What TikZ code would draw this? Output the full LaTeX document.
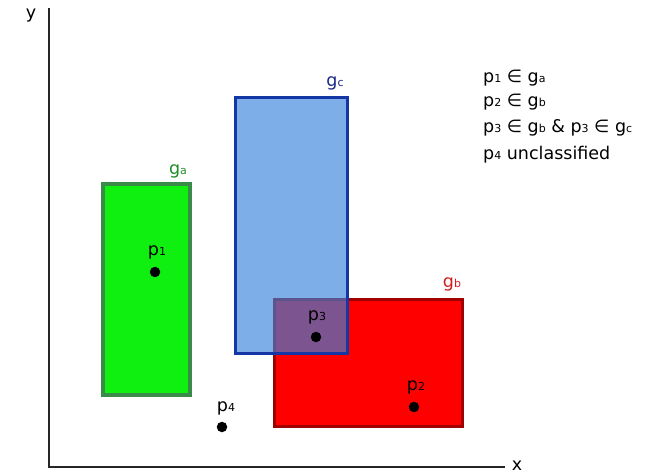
\documentclass[tikz,border=0pt]{standalone}
\usepackage{fontspec}
\setmainfont{DejaVu Sans}
\definecolor{gafill}{RGB}{16,240,16}
\definecolor{gadraw}{RGB}{58,138,74}
\definecolor{galab}{RGB}{30,140,40}
\definecolor{gbfill}{RGB}{255,0,0}
\definecolor{gbdraw}{RGB}{160,0,0}
\definecolor{gblab}{RGB}{210,30,30}
\definecolor{gcfill}{RGB}{55,130,220}
\definecolor{gcdraw}{RGB}{20,55,165}
\definecolor{gclab}{RGB}{25,40,140}
\newcommand\lo[1]{{\fontsize{11}{11}\selectfont #1}}
\begin{document}
\begin{tikzpicture}[x=1pt,y=-1pt,
  lab/.style={font=\fontsize{17.5}{17.5}\selectfont, inner sep=0pt},
  dotmark/.style={circle, fill=black, inner sep=0pt, minimum size=10.5pt},
  axis/.style={draw=black!85, line width=1.8pt}]
\useasboundingbox (0,0) rectangle (665,476);
% axes
\coordinate (o) at (49,467);
\coordinate (ytop) at (49,8);
\coordinate (xend) at (505,467);
\draw[axis] (ytop) -- (o) -- (xend);
\node[lab] (ylab) at (31,16) {y};
\node[lab] (xlab) at (517,466) {x};
% ga
\node[draw=gadraw, fill=gafill, line width=3.5pt, minimum width=87pt, minimum height=211pt, inner sep=0pt] (ga) at (146.5,289.5) {};
\node[lab, text=galab] (galabel) at (178,171) {g\lo{a}};
% gb
\node[draw=gbdraw, fill=gbfill, line width=3pt, minimum width=188pt, minimum height=126pt, inner sep=0pt] (gb) at (368,363) {};
\node[lab, text=gblab] (gblabel) at (452,284) {g\lo{b}};
% gc
\node[draw=gcdraw, fill=gcfill, fill opacity=0.65, line width=3pt, minimum width=112pt, minimum height=255pt, inner sep=0pt] (gc) at (291,225.5) {};
\node[lab, text=gclab] (gclabel) at (335,83) {g\lo{c}};
% points
\node[dotmark] (p1) at (155,272) {};
\node[lab] (p1l) at (157,252) {p\lo{1}};
\node[dotmark] (p2) at (414,407) {};
\node[lab] (p2l) at (416,387) {p\lo{2}};
\node[dotmark] (p3) at (316,337) {};
\node[lab] (p3l) at (317,317) {p\lo{3}};
\node[dotmark] (p4) at (222,427) {};
\node[lab] (p4l) at (226,408) {p\lo{4}};
% legend
\node[lab, anchor=west] (l1) at (483,78) {p\lo{1} ∈ g\lo{a}};
\node[lab, anchor=west] (l2) at (483,102) {p\lo{2} ∈ g\lo{b}};
\node[lab, anchor=west] (l3) at (483,128) {p\lo{3} ∈ g\lo{b} \& p\lo{3} ∈ g\lo{c}};
\node[lab, anchor=west] (l4) at (483,155) {p\lo{4} unclassified};
\end{tikzpicture}
\end{document}
